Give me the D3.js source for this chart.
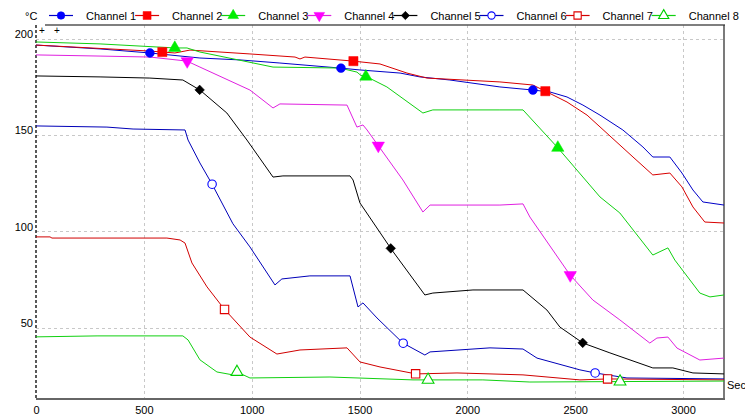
<!DOCTYPE html>
<html><head><meta charset="utf-8">
<script src="https://cdn.jsdelivr.net/npm/d3@7"></script>
<style>body{margin:0;background:#fff;} svg{display:block;font-family:"Liberation Sans",Arial,sans-serif;}</style>
</head><body><svg id="c" width="745" height="419"></svg>
<script>
const channels = ["Channel 1","Channel 2","Channel 3","Channel 4","Channel 5","Channel 6","Channel 7","Channel 8"];
const xTicks = [0,500,1000,1500,2000,2500,3000];
const yTicks = [50,100,150,200];
const unitY = "°C";
const unitX = "Sec";
const markerTimes = [528, 1414, 2304];
const markerStep = 57.7;

const ch1 = [[0,196.6],[297,194.6],[528,192.5],[760,189.9],[946,188.9],[1131,187.3],[1409,184.7],[1502,183.7],[1688,182.1],[1780,180.1],[1919,178.5],[2151,174.9],[2304,173.3],[2383,172.3],[2462,169.7],[2536,165.5],[2615,160.3],[2721,152.6],[2814,143.8],[2860,138.6],[2939,138.6],[2995,130.3],[3046,121.5],[3092,115.3],[3190,113.7]];
const ch2 = [[0,196.6],[528,193.5],[644,192.5],[714,194.0],[992,192.0],[1201,190.4],[1224,189.4],[1247,190.4],[1470,188.3],[1595,186.8],[1720,182.1],[1813,179.5],[2151,177.5],[2304,175.9],[2360,172.8],[2462,167.1],[2555,160.3],[2666,149.0],[2768,138.6],[2860,129.3],[2939,130.3],[2995,123.1],[3046,112.7],[3101,104.9],[3190,104.4]];
const ch3 = [[0,198.2],[297,197.2],[644,195.1],[700,195.1],[760,193.0],[1099,185.2],[1409,184.7],[1488,182.6],[1505,181.0],[1535,180.1],[1627,174.9],[1794,161.4],[1840,163.0],[2151,163.0],[2258,163.0],[2420,143.3],[2615,117.9],[2707,109.6],[2860,87.8],[2930,91.5],[2962,85.2],[3078,68.1],[3125,66.1],[3190,67.1]];
const ch4 = [[0,191.5],[297,190.9],[528,190.4],[700,188.3],[760,185.2],[992,173.3],[1099,164.0],[1131,166.1],[1442,165.5],[1488,154.1],[1516,155.2],[1535,152.6],[1585,144.8],[1701,126.7],[1794,110.1],[1827,113.7],[2151,113.7],[2258,114.3],[2290,107.5],[2476,77.5],[2582,64.5],[2707,54.2],[2846,42.2],[2879,44.8],[2930,45.3],[2972,39.6],[3078,33.4],[3190,34.4]];
const ch5 = [[0,180.6],[297,180.1],[528,179.5],[681,178.5],[760,173.3],[885,161.4],[978,147.4],[1099,128.2],[1145,128.8],[1456,128.8],[1470,126.7],[1502,114.8],[1650,90.4],[1803,67.1],[1840,68.1],[2026,69.7],[2258,69.7],[2369,59.3],[2429,50.5],[2536,42.2],[2661,37.1],[2860,29.3],[2953,29.3],[3046,26.7],[3190,26.2]];
const ch6 = [[0,154.7],[329,154.1],[450,153.1],[691,152.6],[705,147.4],[760,135.5],[816,124.6],[913,104.0],[992,92.0],[1108,72.3],[1140,75.4],[1270,77.0],[1456,77.0],[1493,60.9],[1516,63.0],[1581,55.2],[1701,42.2],[1803,36.0],[1827,37.6],[2105,39.7],[2258,39.1],[2323,34.4],[2522,28.3],[2592,26.7],[2740,24.1],[3190,23.6]];
const ch7 = [[0,97.2],[65,97.2],[74,96.6],[607,96.6],[668,95.6],[691,94.0],[723,83.7],[793,71.3],[872,59.9],[992,45.3],[1117,36.5],[1224,38.6],[1442,39.7],[1502,32.4],[1595,29.8],[1762,26.2],[1952,26.7],[2258,25.7],[2522,23.1],[2652,23.6],[3190,23.1]];
const ch8 = [[0,45.4],[283,45.9],[681,45.9],[705,43.8],[760,33.5],[839,27.2],[913,25.7],[932,27.2],[992,24.1],[1363,24.6],[1748,23.1],[2072,23.1],[2290,22.0],[3190,22.5]];

const seriesData = [ch1,ch2,ch3,ch4,ch5,ch6,ch7,ch8];
const lineColors = ["#0000c8","#d80000","#10d010","#e020e0","#000000","#0000b8","#d00000","#10d010"];
const markColors = ["#0000ff","#ff0000","#00ee00","#ff00ff","#000000","#0000ff","#e00000","#00d000"];
const markFilled = [true,true,true,true,true,false,false,false];
const markShapes = ["circle","square","triangle","down","diamond","circle","square","triangle"];

const svg = d3.select("#c");
const L = 36, R = 724, T = 25, B = 399;
const x = d3.scaleLinear().domain([0,3190]).range([L,R]);
const y = d3.scaleLinear().domain([13.2,207]).range([B,T]);

// grid
const g = svg.append("g");
g.selectAll(".vg").data(xTicks.filter(d=>d>0)).join("line")
  .attr("x1",d=>Math.round(x(d))+0.5).attr("x2",d=>Math.round(x(d))+0.5).attr("y1",T).attr("y2",B)
  .attr("stroke","#c8c8c8").attr("stroke-dasharray","3,3");
g.selectAll(".hg").data(yTicks).join("line")
  .attr("x1",L).attr("x2",R).attr("y1",d=>Math.round(y(d))+0.5).attr("y2",d=>Math.round(y(d))+0.5)
  .attr("stroke","#c8c8c8").attr("stroke-dasharray","3,3");

// axes
const xAxis = d3.axisBottom(x).tickValues(xTicks).tickSize(0).tickPadding(7).tickFormat(d3.format("d"));
const xa = svg.append("g").attr("transform",`translate(0,${B})`).call(xAxis);
xa.select(".domain").remove();
xa.selectAll("text").attr("font-size",11).attr("fill","#000").attr("font-family","Liberation Sans, Arial, sans-serif");
const yAxis = d3.axisLeft(y).tickValues(yTicks).tickSize(0).tickPadding(3).tickFormat(d3.format("d"));
const ya = svg.append("g").attr("transform",`translate(${L},0)`).call(yAxis);
ya.select(".domain").remove();
ya.selectAll("text").attr("font-size",11).attr("fill","#000").attr("dy","-0.12em").attr("font-family","Liberation Sans, Arial, sans-serif");

// borders
svg.append("line").attr("x1",L).attr("x2",L).attr("y1",T).attr("y2",B).attr("stroke","#000").attr("stroke-dasharray","3,2").attr("stroke-width",1.3);
svg.append("line").attr("x1",45).attr("x2",R+1).attr("y1",T).attr("y2",T).attr("stroke","#555").attr("stroke-width",1.5);
svg.append("line").attr("x1",R).attr("x2",R).attr("y1",T).attr("y2",B).attr("stroke","#333").attr("stroke-width",1.3);
svg.append("line").attr("x1",L).attr("x2",R+1).attr("y1",B).attr("y2",B).attr("stroke","#666").attr("stroke-width",2);

svg.append("defs").append("clipPath").attr("id","clip").append("rect").attr("x",L).attr("y",T).attr("width",R-L).attr("height",B-T);

const line = d3.line().x(d=>x(d[0])).y(d=>y(d[1]));
const plot = svg.append("g").attr("clip-path","url(#clip)");
seriesData.forEach((s,i)=>{
  plot.append("path").datum(s).attr("d",line).attr("fill","none").attr("stroke",lineColors[i]).attr("stroke-width",1);
});

function sym(shape, filled, k){
  if(shape==="circle") return {type:d3.symbolCircle,size:(filled?62:56)*k,rot:0};
  if(shape==="square") return {type:d3.symbolSquare,size:(filled?85:70)*k,rot:0};
  if(shape==="triangle") return {type:d3.symbolTriangle,size:(filled?66:60)*k,rot:0};
  if(shape==="down") return {type:d3.symbolTriangle,size:66*k,rot:180};
  return {type:d3.symbolSquare,size:46*k,rot:45};
}
function interp(s,t){
  for(let k=1;k<s.length;k++){
    if(s[k][0]>=t){const a=s[k-1],b=s[k];return a[1]+(b[1]-a[1])*(t-a[0])/(b[0]-a[0]);}
  }
  return s[s.length-1][1];
}
function drawMark(parent,i,px,py,k){
  const sp = sym(markShapes[i],markFilled[i],k);
  parent.append("path").attr("d",d3.symbol().type(sp.type).size(sp.size)())
    .attr("transform",`translate(${px},${py}) rotate(${sp.rot})`)
    .attr("fill",markFilled[i]?markColors[i]:"#fff")
    .attr("stroke",markColors[i]).attr("stroke-width",markFilled[i]?0.5:1.1);
}
const mk = svg.append("g");
seriesData.forEach((s,i)=>{
  markerTimes.forEach(t0=>{
    const t = t0 + markerStep*i;
    drawMark(mk,i,x(t),y(interp(s,t)),1);
  });
});

// legend
const lg = svg.append("g");
lg.append("text").attr("x",25).attr("y",20).attr("font-size",11).text(unitY);
channels.forEach((c,i)=>{
  const tx = 86 + 86.1*i;
  const mx = tx - 25;
  lg.append("line").attr("x1",mx-12).attr("x2",mx+12).attr("y1",15.5).attr("y2",15.5).attr("stroke",lineColors[i]).attr("stroke-width",1.2);
  drawMark(lg,i,mx,15.5,0.75);
  lg.append("text").attr("x",tx).attr("y",20).attr("font-size",11).attr("fill","#000").text(c);
});

// cursor marks and unit
svg.append("text").attr("x",39).attr("y",34).attr("font-size",10).text("+");
svg.append("text").attr("x",54).attr("y",34).attr("font-size",10).text("+");
svg.append("text").attr("x",727).attr("y",389).attr("font-size",11).text(unitX);
</script></body></html>
